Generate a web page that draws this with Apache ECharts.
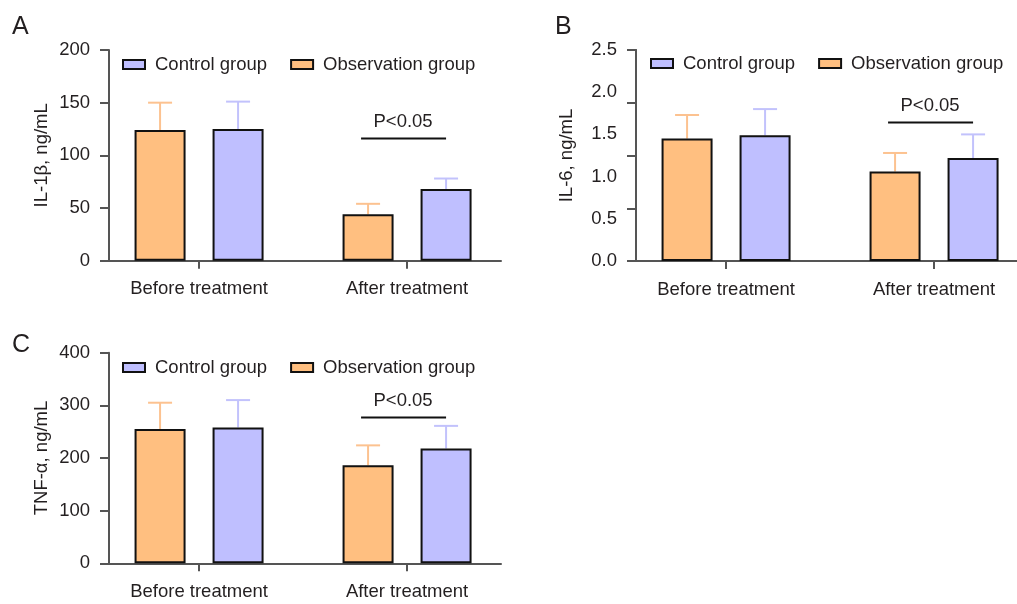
<!DOCTYPE html>
<html>
<head>
<meta charset="utf-8">
<script src="https://cdn.jsdelivr.net/npm/echarts@6/dist/echarts.min.js"></script>
<style>html,body{margin:0;padding:0;background:#fff;}#c{width:1017px;height:604px;}</style>
</head>
<body>
<div id="c"></div>
<script>
const categories = ['Before treatment', 'After treatment'];
const groupNames = ['Control group', 'Observation group'];
const panelLetters = ['A', 'B', 'C'];
const axisTitles = ['IL-1\u03b2, ng/mL', 'IL-6, ng/mL', 'TNF-\u03b1, ng/mL'];

// Panel A: IL-1β
const ilbObs = [124, 44];
const ilbObsSD = [26, 10];
const ilbCtrl = [125, 68];
const ilbCtrlSD = [26, 10];
const ilbTicks = [0, 50, 100, 150, 200];
const ilbSig = [1, 116];

// Panel B: IL-6
const il6Obs = [1.45, 1.06];
const il6ObsSD = [0.28, 0.22];
const il6Ctrl = [1.49, 1.22];
const il6CtrlSD = [0.31, 0.28];
const il6Ticks = [0.0, 0.5, 1.0, 1.5, 2.0, 2.5];
const il6Sig = [1, 1.64];

// Panel C: TNF-α
const tnfObs = [255, 186];
const tnfObsSD = [50, 38];
const tnfCtrl = [258, 218];
const tnfCtrlSD = [52, 43];
const tnfTicks = [0, 100, 200, 300, 400];
const tnfSig = [1, 277];

const sigText = 'P<0.05';

const FONT = 'Arial, "Liberation Sans", Helvetica, sans-serif';
const FS = 18.5;
const TXT = '#231f20';
const AX = '#555';
const OBS_FILL = '#ffbf80', CTRL_FILL = '#bfbfff';
const OBS_ERR = '#fcc290', CTRL_ERR = '#c2c2fc';
const OFF = 0.1875;      // half the distance between bars of a group, in category units
const X_MIN = -0.433;
const UNIT = 208;        // px per category step

const grids = [
  {left: 109, top: 50, width: 392, height: 210.7},
  {left: 636, top: 50, width: 381, height: 211},
  {left: 109, top: 352.7, width: 392, height: 210.6}
];

function errRender(color) {
  return function (params, api) {
    const x = api.value(0), m = api.value(1), sd = api.value(2);
    const p0 = api.coord([x, m]);
    const p1 = api.coord([x, m + sd]);
    return {
      type: 'group',
      children: [
        {type: 'line', shape: {x1: p0[0], y1: p0[1], x2: p1[0], y2: p1[1]}, style: {stroke: color, lineWidth: 2}},
        {type: 'line', shape: {x1: p1[0] - 12, y1: p1[1], x2: p1[0] + 12, y2: p1[1]}, style: {stroke: color, lineWidth: 2}}
      ]
    };
  };
}

function sigRender(params, api) {
  const p = api.coord([api.value(0), api.value(1)]);
  return {
    type: 'group',
    children: [
      {type: 'line', shape: {x1: p[0] - 46, y1: p[1], x2: p[0] + 39, y2: p[1]}, style: {stroke: '#111', lineWidth: 2}},
      {type: 'text', x: p[0] - 4, y: p[1] - 17, style: {text: sigText, font: FS + 'px ' + FONT, fill: TXT, align: 'center', verticalAlign: 'middle'}}
    ]
  };
}

function xAxisFor(i) {
  const g = grids[i];
  return {
    type: 'value', gridIndex: i, min: X_MIN, max: X_MIN + g.width / UNIT,
    splitLine: {show: false},
    axisLine: {show: true, onZero: false, lineStyle: {color: AX, width: 2}},
    axisTick: {show: true, customValues: [0, 1], length: 8, lineStyle: {color: AX, width: 2}},
    axisLabel: {show: true, customValues: [0, 1], margin: 19, fontSize: FS, fontFamily: FONT, color: TXT,
      formatter: function (v) { return categories[Math.round(v)]; }}
  };
}

function yAxisFor(i, ticks, name, gap, opts) {
  return Object.assign({
    type: 'value', gridIndex: i, position: 'left', min: ticks[0], max: ticks[ticks.length - 1],
    interval: ticks[1] - ticks[0],
    name: name, nameLocation: 'middle', nameRotate: 90, nameGap: gap,
    nameTextStyle: {fontSize: FS, fontFamily: FONT, color: TXT},
    splitLine: {show: false},
    axisLine: {show: true, onZero: false, lineStyle: {color: AX, width: 2}},
    axisTick: {show: true, length: 9, lineStyle: {color: AX, width: 2}},
    axisLabel: {margin: 19, fontSize: FS, fontFamily: FONT, color: TXT}
  }, opts || {});
}

const yAxes = [
  yAxisFor(0, ilbTicks, axisTitles[0], 58),
  yAxisFor(1, il6Ticks, axisTitles[1], 60, {
    axisTick: {show: false},
    axisLabel: {margin: 19, fontSize: FS, fontFamily: FONT, color: TXT, formatter: function (v) { return v.toFixed(1); }}
  }),
  // tick-only axis for panel B (ticks in the original are not aligned with its labels)
  {type: 'value', gridIndex: 1, position: 'left', offset: 0, min: 0, max: 2.5, interval: 0.625,
   splitLine: {show: false}, axisLabel: {show: false},
   axisLine: {show: true, onZero: false, lineStyle: {color: AX, width: 2}},
   axisTick: {show: true, length: 9, lineStyle: {color: AX, width: 2}}},
  yAxisFor(2, tnfTicks, axisTitles[2], 58)
];

function panelSeries(xi, yi, obs, obsSD, ctrl, ctrlSD, sig) {
  const barBase = {type: 'bar', xAxisIndex: xi, yAxisIndex: yi, barWidth: 51, barGap: '-100%', z: 3};
  return [
    Object.assign({}, barBase, {
      name: groupNames[1],
      itemStyle: {color: OBS_FILL, borderColor: '#111', borderWidth: 2},
      data: obs.map(function (v, i) { return [i - OFF, v]; })
    }),
    Object.assign({}, barBase, {
      name: groupNames[0],
      itemStyle: {color: CTRL_FILL, borderColor: '#111', borderWidth: 2},
      data: ctrl.map(function (v, i) { return [i + OFF, v]; })
    }),
    {type: 'custom', xAxisIndex: xi, yAxisIndex: yi, z: 1, silent: true, renderItem: errRender(OBS_ERR),
     data: obs.map(function (v, i) { return [i - OFF, v, obsSD[i]]; })},
    {type: 'custom', xAxisIndex: xi, yAxisIndex: yi, z: 1, silent: true, renderItem: errRender(CTRL_ERR),
     data: ctrl.map(function (v, i) { return [i + OFF, v, ctrlSD[i]]; })},
    {type: 'custom', xAxisIndex: xi, yAxisIndex: yi, z: 4, silent: true, clip: false, renderItem: sigRender,
     data: [sig]}
  ];
}

function legendFor(left, top) {
  return {
    left: left, top: top, orient: 'horizontal', itemWidth: 22, itemHeight: 9, itemGap: 23,
    icon: 'rect', selectedMode: false,
    textStyle: {fontSize: FS, fontFamily: FONT, color: TXT, padding: [0, 0, 0, 5]},
    data: [groupNames[0], groupNames[1]]
  };
}

const option = {
  animation: false,
  backgroundColor: '#fff',
  title: [
    {text: panelLetters[0], left: 7, top: 10, textStyle: {fontSize: 25, fontWeight: 'normal', fontFamily: FONT, color: TXT}},
    {text: panelLetters[1], left: 550, top: 10, textStyle: {fontSize: 25, fontWeight: 'normal', fontFamily: FONT, color: TXT}},
    {text: panelLetters[2], left: 7, top: 328, textStyle: {fontSize: 25, fontWeight: 'normal', fontFamily: FONT, color: TXT}}
  ],
  legend: [legendFor(117, 50), legendFor(645, 49), legendFor(117, 353)],
  grid: grids,
  xAxis: [xAxisFor(0), xAxisFor(1), xAxisFor(2)],
  yAxis: yAxes,
  series: [].concat(
    panelSeries(0, 0, ilbObs, ilbObsSD, ilbCtrl, ilbCtrlSD, ilbSig),
    panelSeries(1, 1, il6Obs, il6ObsSD, il6Ctrl, il6CtrlSD, il6Sig),
    panelSeries(2, 3, tnfObs, tnfObsSD, tnfCtrl, tnfCtrlSD, tnfSig)
  )
};

const chart = echarts.init(document.getElementById('c'), null, {renderer: 'canvas'});
chart.setOption(option);
</script>
</body>
</html>
